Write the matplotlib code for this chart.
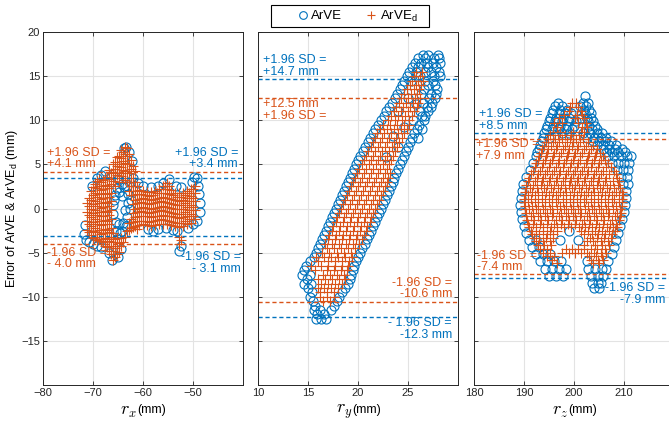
import numpy as np
import matplotlib.pyplot as plt
from matplotlib.patches import Rectangle

plt.rcParams['font.family'] = ['Liberation Sans', 'DejaVu Sans']
plt.rcParams['mathtext.fontset'] = 'cm'

blue = '#0072BD'
orange = '#D95319'

# +/-1.96 SD limits (mm) for r_x, r_y, r_z
loa_arve = [(3.4, -3.1), (14.7, -12.3), (8.5, -7.9)]
loa_arve_d = [(4.1, -4.0), (12.5, -10.6), (7.9, -7.4)]

# r_x panel, ArVE (x, err)
rx_arve = [(-65.5, -2.5), (-65.5, -1.5), (-65.6, 1.5), (-65.3, 2.3), (-64.7, -2.8), (-64.8, -1.8),
           (-64.8, 1.9), (-64.2, -2.6), (-64.0, -1.6), (-63.8, 2.4), (-63.4, -2.0), (-63.2, -1.0),
           (-63.0, 0.6), (-63.0, 1.6), (-63.2, 2.5), (-62.6, 0.0), (-62.5, 1.0), (-64.2, 2.8),
           (-65.0, 3.3), (-66.0, -0.6), (-66.0, 0.4), (-65.9, 1.0), (-63.6, -0.2), (-64.3, 1.4),
           (-71.8, -2.9), (-71.5, -3.6), (-70.8, -3.8), (-70.0, -4.0), (-69.2, -4.2), (-68.4, -4.4),
           (-71.6, -1.9), (-70.2, 2.6), (-69.3, 3.4), (-68.5, 3.8), (-67.6, 4.2),
           (-66.2, -5.8), (-65.0, -5.5), (-66.8, -5.0), (-64.4, -4.6),
           (-63.5, 7.0), (-62.8, 6.4), (-63.8, 6.9), (-62.2, 5.4),
           (-59.0, -2.3), (-58.0, -2.5), (-57.0, -2.3), (-55.5, -2.2), (-54.0, -2.4), (-53.2, -2.6),
           (-52.8, -4.8), (-52.5, -4.2), (-51.0, -2.2), (-50.0, -1.8), (-49.2, -1.4), (-48.7, -0.4),
           (-48.6, 0.6), (-48.8, 1.6), (-49.0, 2.6), (-49.3, 3.4), (-49.8, 3.6), (-50.3, 3.0),
           (-58.5, 2.4), (-57.0, 2.6), (-56.0, 2.9), (-54.8, 3.3), (-53.5, 2.6), (-52.5, 2.4),
           (-60.0, 2.6), (-61.0, 2.9), (-62.0, 3.5)]

# r_x panel, ArVE_d, read column by column (x, [err...])
rx_arve_d = [(-71.3, [-2.4, -1.4, -0.4, 0.6]),
             (-70.9, [-2.7, -1.7, -0.7, 0.3, 1.2]),
             (-70.5, [-3.0, -2.0, -1.0, 0.0, 1.0, 2.0]),
             (-70.1, [-3.3, -2.5, -1.5, -0.5, 0.5, 1.5, 2.4]),
             (-69.7, [-3.2, -2.2, -1.2, -0.2, 0.8, 1.8, 2.8]),
             (-69.3, [-3.6, -2.7, -1.7, -0.7, 0.3, 1.3, 2.3, 3.1]),
             (-68.9, [-3.4, -2.4, -1.4, -0.4, 0.6, 1.6, 2.6, 3.3]),
             (-68.5, [-3.7, -2.9, -1.9, -0.9, 0.1, 1.1, 2.1, 3.0]),
             (-68.1, [-3.8, -2.8, -1.8, -0.8, 0.2, 1.2, 2.2, 3.2]),
             (-67.7, [-4.2, -3.3, -2.3, -1.3, -0.3, 0.7, 1.7, 2.7, 3.5]),
             (-67.3, [-4.4, -3.4, -2.4, -1.4, -0.4, 0.6, 1.6, 2.6, 3.6]),
             (-66.9, [-4.8, -3.7, -2.7, -1.7, -0.7, 0.3, 1.3, 2.3, 3.3, 4.4]),
             (-66.5, [-5.2, -4.2, -3.2, -2.2, -1.2, -0.2, 0.8, 1.8, 2.8, 4.0]),
             (-66.1, [-5.8, -4.8, -3.8, -2.8, 3.1, 4.1, 5.0]),
             (-65.7, [-5.5, -4.5, -3.5, 2.5, 3.5, 4.5, 5.3]),
             (-65.3, [-5.1, -4.2, -3.3, 3.8, 4.8, 5.8]),
             (-64.9, [-4.9, -3.9, 3.0, 4.0, 5.0, 6.0]),
             (-64.5, [-4.3, -3.3, 3.7, 4.7, 5.7, 6.6]),
             (-64.1, [-3.8, 3.4, 4.4, 5.4, 6.4]),
             (-63.7, [-3.2, 3.2, 4.2, 5.2, 6.2, 7.0]),
             (-63.3, [-2.6, 3.0, 4.0, 5.0, 6.0, 6.8]),
             (-62.9, [-2.4, -1.6, 2.0, 3.0, 4.0, 5.0, 6.2]),
             (-62.5, [-2.2, -1.2, 1.5, 2.5, 3.5, 4.5, 5.5]),
             (-62.1, [-2.1, -1.5, -0.5, 0.5, 1.5, 2.5, 3.5, 4.8]),
             (-61.7, [-2.0, -1.0, 0.0, 1.0, 2.0, 3.0, 4.2]),
             (-61.3, [-2.3, -1.4, -0.4, 0.6, 1.6, 2.5]),
             (-60.9, [-1.9, -0.9, 0.1, 1.1, 2.1]),
             (-60.5, [-1.4, -0.3, 0.7, 1.6]),
             (-60.1, [-1.8, -0.8, 0.2, 1.2, 2.0]),
             (-59.7, [-1.4, -0.4, 0.6, 1.5]),
             (-59.3, [-1.9, -0.9, 0.1, 1.1, 1.9]),
             (-58.9, [-1.5, -0.5, 0.5, 1.4]),
             (-58.5, [-2.0, -1.0, 0.0, 1.0, 1.9]),
             (-58.1, [-1.4, -0.4, 0.6, 1.5]),
             (-57.7, [-1.9, -0.9, 0.1, 1.1, 2.0]),
             (-57.3, [-1.3, -0.3, 0.7, 1.7]),
             (-56.9, [-1.8, -0.8, 0.2, 1.2, 2.2]),
             (-56.5, [-1.2, -0.2, 0.8, 1.8]),
             (-56.1, [-1.7, -0.7, 0.3, 1.3, 2.5]),
             (-55.7, [-1.3, -0.3, 0.7, 1.7, 2.6]),
             (-55.3, [-1.8, -0.8, 0.2, 1.2, 2.2, 2.9]),
             (-54.9, [-1.4, -0.4, 0.6, 1.6, 2.5]),
             (-54.5, [-1.9, -0.9, 0.1, 1.1, 2.1]),
             (-54.1, [-1.5, -0.5, 0.5, 1.5]),
             (-53.7, [-2.0, -1.0, 0.0, 1.0, 1.8]),
             (-53.3, [-1.6, -0.6, 0.4, 1.3]),
             (-52.9, [-4.0, -3.2, -2.1, -1.1, -0.1, 0.9, 1.7]),
             (-52.5, [-3.6, -1.6, -0.6, 0.4, 1.3]),
             (-52.1, [-2.0, -1.0, 0.0, 1.0, 1.8]),
             (-51.7, [-1.4, -0.4, 0.6, 1.5]),
             (-51.3, [-1.8, -0.8, 0.2, 1.2, 2.0]),
             (-50.9, [-1.2, -0.2, 0.8, 1.8]),
             (-50.5, [-1.6, -0.6, 0.4, 1.4, 2.2]),
             (-50.1, [-0.8, 0.2, 1.2, 2.2]),
             (-49.7, [-1.2, -0.2, 0.8, 1.8, 2.6])]

# r_y panel, read row by row (err, [x...])
ry_arve = [(-12.5, [15.8, 16.3, 16.8]), (-12.0, [15.9, 16.6]), (-11.5, [15.6, 16.2, 17.3]),
           (-11.0, [15.7, 17.6]), (-10.5, [15.5, 17.9]), (-10.0, [15.2, 18.1]), (-9.5, [15.4, 18.4]),
           (-9.0, [15.0, 18.7]), (-8.5, [14.6, 15.3, 19.0]), (-8.0, [14.9, 19.2]),
           (-7.5, [14.4, 15.2, 19.3]), (-7.0, [14.6, 19.5]), (-6.5, [14.8, 19.6]), (-6.0, [15.2, 19.8]),
           (-5.5, [15.6, 20.0]), (-5.0, [15.8, 20.2]), (-4.5, [16.0, 20.4]), (-4.0, [16.2, 20.7]),
           (-3.5, [16.4, 20.9]), (-3.0, [16.6, 21.1]), (-2.5, [16.8, 21.3]), (-2.0, [17.0, 21.5]),
           (-1.5, [17.2, 21.7]), (-1.0, [17.4, 21.9]), (-0.5, [17.6, 22.1]), (0.0, [17.8, 22.3]),
           (0.5, [18.0, 22.5]), (1.0, [18.2, 22.7]), (1.5, [18.4, 22.9]), (2.0, [18.6, 23.1]),
           (2.5, [18.8, 23.3]), (3.0, [19.0, 23.5]), (3.5, [19.2, 23.6]), (4.0, [19.4, 23.8]),
           (4.5, [19.6, 24.0]), (5.0, [19.8, 24.2]), (5.5, [20.0, 24.4]), (6.0, [20.2, 24.6]),
           (6.5, [20.5, 24.8]), (7.0, [20.7, 25.0]), (7.5, [21.0, 25.2]), (8.0, [21.2, 25.4, 26.0]),
           (8.5, [21.5, 25.6]), (9.0, [21.7, 25.9, 26.4]), (9.5, [22.0, 26.1]), (10.0, [22.3, 25.5, 26.6]),
           (10.5, [22.6, 26.4, 26.7]), (11.0, [22.8, 24.0, 26.2, 27.0]), (11.5, [23.1, 26.9, 27.3]),
           (12.0, [23.4, 26.5, 27.4]), (12.5, [23.7, 25.0, 27.1, 27.7]), (13.0, [23.9, 26.3, 27.3, 27.8]),
           (13.5, [24.2, 26.6, 27.9]), (14.0, [24.4, 27.0, 27.7]), (14.5, [24.6, 25.3, 26.7, 27.5]),
           (15.0, [24.9, 26.2, 27.6, 28.2]), (15.5, [25.1, 25.8, 26.7, 27.3, 28.1]),
           (16.0, [25.4, 26.0, 27.0, 27.8]), (16.5, [25.7, 26.3, 26.9, 27.5, 28.2]),
           (17.0, [26.0, 26.7, 27.6, 28.1]), (17.4, [26.5, 27.0, 28.0]),
           (11.8, [25.8]), (9.2, [24.6]), (8.2, [23.5]), (7.0, [24.0]), (5.8, [22.8])]

ry_arve_d = [(-10.5, [16.5, 17.2]), (-10.0, [16.2, 16.9, 17.6]), (-9.5, [16.2, 16.9, 17.6]),
             (-9.0, [16.0, 16.6, 17.3, 18.0]), (-8.5, [16.3, 17.0, 17.7, 18.4]),
             (-8.0, [16.0, 16.7, 17.4, 18.1, 18.7]), (-7.5, [16.5, 17.2, 17.9, 18.6]),
             (-7.0, [15.7, 16.9, 17.6, 18.3, 18.9]), (-6.5, [15.3, 16.3, 17.0, 17.7, 18.4, 19.0]),
             (-6.0, [16.0, 17.0, 17.7, 18.4, 19.1]), (-5.5, [15.8, 16.6, 17.3, 18.0, 18.7, 19.4]),
             (-5.0, [16.4, 17.1, 17.9, 18.6, 19.3]), (-4.5, [16.9, 17.6, 18.3, 19.0, 19.7]),
             (-4.0, [16.7, 17.4, 18.1, 18.8, 19.5, 20.1]), (-3.5, [17.0, 17.7, 18.4, 19.1, 19.8, 20.4]),
             (-3.0, [17.1, 17.8, 18.5, 19.2, 19.9, 20.6]), (-2.5, [17.4, 18.1, 18.8, 19.5, 20.2, 20.8]),
             (-2.0, [17.5, 18.2, 18.9, 19.6, 20.3, 20.9]), (-1.5, [17.8, 18.5, 19.2, 19.9, 20.6, 21.2]),
             (-1.0, [17.9, 18.6, 19.3, 20.0, 20.7, 21.3]), (-0.5, [18.1, 18.8, 19.5, 20.2, 20.9, 21.5]),
             (0.0, [18.3, 19.0, 19.7, 20.4, 21.1, 21.7]), (0.5, [18.5, 19.2, 19.9, 20.6, 21.3, 21.9]),
             (1.0, [18.7, 19.4, 20.1, 20.8, 21.5, 22.1]), (1.5, [18.9, 19.6, 20.3, 21.0, 21.7, 22.3]),
             (2.0, [19.1, 19.8, 20.5, 21.2, 21.9, 22.5]), (2.5, [19.3, 20.0, 20.7, 21.4, 22.1, 22.7]),
             (3.0, [19.5, 20.2, 20.9, 21.6, 22.3, 22.9]), (3.5, [19.7, 20.4, 21.1, 21.8, 22.5, 23.0]),
             (4.0, [19.9, 20.6, 21.3, 22.0, 22.7, 23.2]), (4.5, [20.1, 20.8, 21.5, 22.2, 22.9]),
             (5.0, [20.4, 21.1, 21.8, 22.5, 23.1]), (5.5, [20.6, 21.3, 22.0, 22.7, 23.3]),
             (6.0, [20.8, 21.5, 22.2, 22.9, 23.5]), (6.5, [21.0, 21.7, 22.4, 23.1, 23.7]),
             (7.0, [21.3, 22.0, 22.7, 23.4, 23.9]), (7.5, [21.5, 22.2, 22.9, 23.6, 24.1]),
             (8.0, [21.7, 22.4, 23.1, 23.8, 24.4]), (8.5, [21.9, 22.6, 23.3, 24.0, 24.6]),
             (9.0, [22.2, 22.9, 23.6, 24.3, 24.9]), (9.5, [22.5, 23.2, 23.9, 24.6, 25.1]),
             (10.0, [23.0, 23.7, 24.4, 25.1]), (10.5, [23.3, 24.0, 24.7, 25.4]),
             (11.0, [23.6, 24.3, 25.0, 25.6]), (11.5, [23.8, 24.5, 25.2, 25.9]),
             (12.0, [24.1, 24.8, 25.5, 26.0]), (12.5, [24.3, 25.0, 25.7, 26.2]),
             (13.0, [24.6, 25.3, 25.9]), (13.5, [24.9, 25.6, 26.1]), (14.0, [25.2, 25.8, 26.3]),
             (14.5, [25.4, 26.0, 26.5]), (15.0, [25.6, 26.2]), (15.5, [25.8, 26.4])]

# r_z panel, read row by row (err, [x...])
rz_arve = [(12.8, [202.2]), (11.9, [196.8, 201.8, 202.8]), (11.6, [196.2, 197.6, 201.2, 202.4]),
           (11.2, [195.8, 197.2, 198.5, 202.0, 203.0]),
           (10.8, [195.5, 196.9, 198.2, 199.4, 202.2, 203.3]),
           (10.3, [195.2, 196.4, 197.8, 199.0, 201.4, 202.6, 203.4]),
           (9.9, [194.9, 196.1, 197.5, 198.9, 200.4, 202.8, 203.8]),
           (9.4, [194.6, 195.8, 197.2, 198.6, 200.0, 203.0, 204.2]),
           (9.0, [194.3, 195.5, 196.9, 198.3, 199.6, 203.6, 204.5]),
           (8.5, [194.0, 197.5, 199.0, 201.8, 203.2, 204.6, 205.6]),
           (8.0, [193.7, 194.9, 202.6, 204.0, 205.4, 206.4]),
           (7.6, [193.5, 203.8, 205.0, 206.2, 207.4]), (7.2, [193.2, 204.6, 205.8, 207.0, 208.4]),
           (6.7, [193.0, 205.8, 207.0, 208.2, 209.6]), (6.4, [192.6, 206.3, 207.6, 208.8, 210.2]),
           (6.0, [192.3, 206.8, 208.0, 209.4, 210.6, 211.4]), (5.2, [191.8, 207.6, 208.8, 210.0, 211.0]),
           (4.4, [191.2, 208.6, 209.8, 210.8]), (3.6, [190.4, 209.4, 210.6]), (2.8, [189.8, 209.8, 210.8]),
           (2.0, [189.5, 210.4]), (1.2, [189.3, 210.3]), (0.4, [189.2, 210.2]), (-0.4, [189.3, 210.0]),
           (-1.2, [189.5, 209.6]), (-2.0, [189.9, 209.2]), (-2.8, [190.4, 208.8]),
           (-3.6, [191.0, 192.4, 197.2, 200.8, 208.4]), (-2.6, [199.0]), (-4.4, [191.6, 193.0, 208.0]),
           (-5.2, [192.4, 193.8, 195.2, 207.6]), (-6.0, [193.2, 194.6, 196.0, 197.4, 202.5, 206.8]),
           (-6.8, [194.2, 195.6, 197.0, 198.4, 202.8, 204.2, 205.6, 206.4]),
           (-7.6, [195.0, 196.4, 197.8, 203.4, 204.8, 205.8]), (-8.4, [203.6, 204.8, 205.4]),
           (-9.0, [204.0, 205.0])]

rz_arve_d = [(12.0, [199.6, 200.4]), (11.5, [199.2, 200.8]), (11.0, [198.9, 201.3]),
             (10.6, [198.0, 200.6, 201.5]), (10.2, [197.0, 200.1, 202.0]),
             (9.7, [196.0, 197.6, 200.8, 202.3]), (9.2, [196.5, 201.6, 202.6]),
             (8.7, [195.7, 197.2, 199.8, 201.3, 202.0]), (8.3, [195.2, 196.7, 198.1, 199.3, 200.9]),
             (7.9, [194.8, 196.2, 197.6, 199.1, 200.4, 201.8]),
             (7.5, [194.3, 195.7, 197.0, 198.5, 199.8, 201.1, 202.8]),
             (7.1, [193.9, 195.3, 196.6, 198.1, 199.5, 200.8, 202.4, 203.8]),
             (6.7, [193.6, 194.8, 196.3, 197.8, 199.0, 200.5, 202.0, 203.3, 204.6]),
             (6.3, [193.3, 194.6, 196.0, 197.4, 198.8, 200.2, 201.6, 203.0, 204.4, 205.2]),
             (5.9, [193.0, 194.4, 195.7, 197.0, 198.6, 199.9, 201.2, 202.7, 204.2, 205.7]),
             (5.5, [192.7, 194.1, 195.5, 196.9, 198.3, 199.7, 201.1, 202.5, 203.9, 205.3, 206.2]),
             (5.1, [192.4, 193.7, 195.2, 196.7, 198.0, 199.3, 200.8, 202.3, 203.6, 205.0, 206.8]),
             (4.7, [192.1, 193.5, 194.9, 196.3, 197.7, 199.1, 200.5, 201.9, 203.3, 204.7, 206.3, 207.3]),
             (4.3, [191.8, 193.1, 194.6, 195.9, 197.2, 198.7, 200.2, 201.5, 202.8, 204.3, 205.8, 208.0]),
             (3.9, [191.4, 192.8, 194.2, 195.6, 197.0, 198.4, 199.8, 201.2, 202.6, 204.0, 205.4, 206.9, 208.3]),
             (3.5, [191.0, 192.5, 193.8, 195.1, 196.6, 198.1, 199.4, 200.7, 202.2, 203.7, 205.0, 206.4, 208.6]),
             (3.1, [190.7, 192.1, 193.5, 194.9, 196.3, 197.7, 199.1, 200.5, 201.9, 203.3, 204.7, 206.1,
                    207.7, 209.0]),
             (2.7, [190.4, 191.8, 193.3, 194.6, 195.9, 197.4, 198.9, 200.2, 201.5, 203.0, 204.5, 205.8,
                    207.1, 208.8]),
             (2.3, [190.3, 191.2, 192.6, 194.0, 195.4, 196.8, 198.2, 199.6, 201.0, 202.4, 203.8, 205.2,
                    206.6, 208.0, 209.2]),
             (1.9, [190.2, 191.5, 192.8, 194.3, 195.8, 197.1, 198.4, 199.9, 201.4, 202.7, 204.0, 205.5,
                    207.0, 208.3, 209.5]),
             (1.5, [190.1, 190.7, 192.1, 193.5, 194.9, 196.3, 197.7, 199.1, 200.5, 201.9, 203.3, 204.7,
                    206.1, 207.5, 208.9, 209.7]),
             (1.1, [190.0, 191.3, 192.7, 194.2, 195.5, 196.8, 198.3, 199.8, 201.1, 202.4, 203.9, 205.4,
                    206.7, 208.0, 209.6]),
             (0.7, [189.9, 190.7, 192.1, 193.5, 194.9, 196.3, 197.7, 199.1, 200.5, 201.9, 203.3, 204.7,
                    206.1, 207.5, 208.9, 209.6]),
             (0.3, [190.1, 191.5, 192.8, 194.1, 195.6, 197.1, 198.4, 199.7, 201.2, 202.7, 204.0, 205.3,
                    206.8, 208.3, 209.5]),
             (-0.1, [190.2, 191.0, 192.4, 193.8, 195.2, 196.6, 198.0, 199.4, 200.8, 202.2, 203.6, 205.0,
                     206.4, 207.8, 209.2]),
             (-0.5, [190.3, 191.7, 193.2, 194.5, 195.8, 197.3, 198.8, 200.1, 201.4, 202.9, 204.4, 205.7,
                     207.0, 208.5, 209.3]),
             (-0.9, [190.4, 191.3, 192.7, 194.1, 195.5, 196.9, 198.3, 199.7, 201.1, 202.5, 203.9, 205.3,
                     206.7, 208.1, 209.1]),
             (-1.3, [190.6, 192.0, 193.3, 194.8, 196.3, 197.6, 198.9, 200.4, 201.9, 203.2, 204.5, 206.0,
                     207.5, 208.9]),
             (-1.7, [190.8, 191.7, 193.1, 194.5, 195.9, 197.3, 198.7, 200.1, 201.5, 202.9, 204.3, 205.7,
                     207.1, 208.4]),
             (-2.1, [191.0, 192.3, 193.8, 195.3, 196.6, 197.9, 199.4, 200.9, 202.2, 203.5, 205.0, 206.5,
                     207.8, 208.5]),
             (-2.5, [191.3, 192.3, 193.7, 195.1, 196.5, 201.3, 202.7, 204.1, 205.5, 206.9, 208.1]),
             (-2.9, [191.6, 193.0, 194.5, 195.8, 202.0, 203.5, 204.8, 206.1, 207.6]),
             (-3.3, [192.0, 193.0, 194.4, 195.8, 203.1, 204.5, 205.9, 207.3]),
             (-3.7, [192.3, 193.8, 195.1, 202.5, 203.8, 205.3, 206.7]),
             (-4.1, [192.8, 193.9, 195.3, 202.0, 204.2, 205.6, 207.0]),
             (-4.6, [193.2, 194.6, 198.3, 199.5, 200.8, 201.9, 203.3, 204.6, 206.1]),
             (-5.0, [193.7, 195.2, 197.5, 198.9, 200.1, 201.4, 202.6, 204.0, 205.3, 206.4]),
             (-5.4, [194.5, 196.0, 203.0, 204.4, 205.6]), (-5.8, [195.5, 203.4, 204.8, 205.8]),
             (-6.2, [196.5, 203.8, 205.0])]

xlims = [(-80, -40), (10, 30), (180, 220)]
xticks = [[-80, -70, -60, -50], [10, 15, 20, 25], [180, 190, 200, 210]]
xnames = ['x', 'y', 'z']


def from_rows(rows):
    xs, ys = [], []
    for y, row in rows:
        xs += row
        ys += [y] * len(row)
    return xs, ys


def from_cols(cols):
    xs, ys = [], []
    for x, col in cols:
        xs += [x] * len(col)
        ys += col
    return xs, ys


panels = [
    (list(zip(*rx_arve)), from_cols(rx_arve_d)),
    (from_rows(ry_arve), from_rows(ry_arve_d)),
    (from_rows(rz_arve), from_rows(rz_arve_d)),
]

fig = plt.figure(figsize=(6.69, 4.21), dpi=100)
lefts = [43 / 669, 258 / 669, 474 / 669]
axes = []
for i, left in enumerate(lefts):
    ax = fig.add_axes([left, 1 - 385 / 421, 200 / 669, 353 / 421])
    axes.append(ax)
    (bx, by), (ox, oy) = panels[i]
    h1, = ax.plot(bx, by, 'o', ls='none', mfc='none', mec=blue, ms=6.5, mew=0.8)
    h2, = ax.plot(ox, oy, '+', ls='none', color=orange, ms=7, mew=0.8)
    up, lo = loa_arve[i]
    ud, ld = loa_arve_d[i]
    for v, c in [(up, blue), (lo, blue), (ud, orange), (ld, orange)]:
        ax.axhline(v, color=c, ls=(0, (3, 2)), lw=1.0)
    ax.set_xlim(*xlims[i])
    ax.set_ylim(-20, 20)
    ax.set_xticks(xticks[i])
    ax.set_yticks(range(-15, 21, 5))
    if i > 0:
        ax.set_yticklabels([])
    ax.grid(True, color='#e3e3e3', lw=0.8)
    ax.set_axisbelow(True)
    ax.tick_params(direction='in', top=True, right=True, length=3, width=0.6,
                   colors='#262626', labelsize=8, pad=2)
    for s in ax.spines.values():
        s.set_color('#262626')
        s.set_linewidth(0.7)
    ax.text(0.47, -0.075, r'$r_%s$' % xnames[i], transform=ax.transAxes,
            ha='right', va='center', fontsize=13)
    ax.text(0.47, -0.07, '(mm)', transform=ax.transAxes, ha='left', va='center', fontsize=9)

axes[0].set_ylabel(r'Error of ArVE & ArVE$_{\mathregular{d}}$ (mm)', fontsize=9, labelpad=1)

tk = dict(fontsize=9, linespacing=0.95, va='center', zorder=10)
a = axes[0]
a.text(-79.2, 5.65, '+1.96 SD =\n+4.1 mm', color=orange, ha='left', **tk)
a.text(-41.0, 5.65, '+1.96 SD =\n+3.4 mm', color=blue, ha='right', multialignment='right', **tk)
a.text(-79.2, -5.66, '-1.96 SD =\n- 4.0 mm', color=orange, ha='left', **tk)
a.text(-40.4, -6.17, '-1.96 SD =\n- 3.1 mm', color=blue, ha='right', multialignment='right', **tk)
a = axes[1]
a.text(10.5, 16.16, '+1.96 SD =\n+14.7 mm', color=blue, ha='left', **tk)
a.text(10.5, 11.16, '+12.5 mm\n+1.96 SD =', color=orange, ha='left', **tk)
a.text(29.4, -9.07, '-1.96 SD =\n-10.6 mm', color=orange, ha='right', multialignment='right', **tk)
a.text(29.4, -13.67, '- 1.96 SD =\n-12.3 mm', color=blue, ha='right', multialignment='right', **tk)
a = axes[2]
a.text(181.0, 10.0, '+1.96 SD =\n+8.5 mm', color=blue, ha='left', **tk)
a.text(180.4, 6.6, '+1.96 SD =\n+7.9 mm', color=orange, ha='left', **tk)
a.text(180.6, -6.0, '-1.96 SD =\n-7.4 mm', color=orange, ha='left', **tk)
a.text(218.2, -9.7, '-1.96 SD =\n-7.9 mm', color=blue, ha='right', multialignment='right', **tk)

# legend box drawn separately to get MATLAB-like wide padding
fig.patches.append(Rectangle((271 / 669, 1 - 27 / 421), 158 / 669, 22 / 421,
                             transform=fig.transFigure, fill=True, fc='white',
                             ec='black', lw=0.8))
fig.legend([h1, h2], ['ArVE', r'ArVE$_{\mathregular{d}}$'], loc='center',
           bbox_to_anchor=(357 / 669, 1 - 16 / 421), ncol=2, fontsize=9.5, frameon=False,
           handlelength=1.0, handletextpad=0.15, columnspacing=1.7, borderpad=0.2,
           markerscale=0.85)

fig.savefig('out.png', dpi=100)
